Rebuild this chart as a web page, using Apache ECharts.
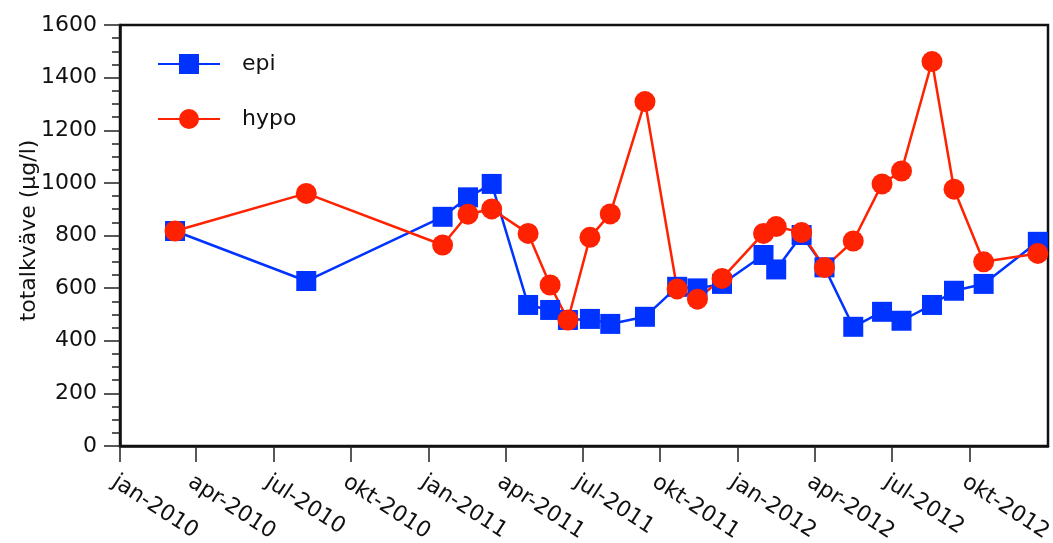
<!DOCTYPE html>
<html><head><meta charset="utf-8">
<script src="https://cdn.jsdelivr.net/npm/echarts@6/dist/echarts.min.js"></script>
<style>html,body{margin:0;padding:0;background:#fff}#c{width:1053px;height:543px}</style>
</head><body><div id="c"></div>
<script>
const dates = ['2010-03-07','2010-08-09','2011-01-17','2011-02-16','2011-03-16','2011-04-28','2011-05-24','2011-06-14','2011-07-10','2011-08-03','2011-09-13','2011-10-21','2011-11-14','2011-12-13','2012-01-31','2012-02-15','2012-03-16','2012-04-12','2012-05-16','2012-06-19','2012-07-12','2012-08-17','2012-09-12','2012-10-17','2012-12-20'];
const epi  = [817,627,871,945,996,536,517,479,483,464,491,605,599,616,726,671,802,679,453,510,476,536,590,616,776];
const hypo = [817,960,764,881,901,808,612,479,793,882,1309,597,558,637,808,834,811,678,779,996,1045,1461,976,700,732];
const tickDates  = ['2010-01-01','2010-04-01','2010-07-01','2010-10-01','2011-01-01','2011-04-01','2011-07-01','2011-10-01','2012-01-01','2012-04-01','2012-07-01','2012-10-01'];
const tickLabels = ['jan-2010','apr-2010','jul-2010','okt-2010','jan-2011','apr-2011','jul-2011','okt-2011','jan-2012','apr-2012','jul-2012','okt-2012'];
const xRange = ['2010-01-01','2013-01-01'];
const yMin = 0, yMax = 1600, yStep = 200;

const FONT = 'DejaVu Sans';
const p = s => { const [y,m,d] = s.split('-').map(Number); return Date.UTC(y, m-1, d); };
const tickValues = tickDates.map(p);

const chart = echarts.init(document.getElementById('c'), null, {renderer:'canvas'});
chart.setOption({
  animation: false,
  backgroundColor: '#fff',
  grid: { left: 120, right: 5, top: 25, bottom: 97, outerBoundsMode: 'none', containLabel: false,
          show: true, borderColor: '#111', borderWidth: 2.5, backgroundColor: 'transparent' },
  legend: {
    data: ['epi','hypo'], orient: 'vertical', left: 157, top: 53, padding: 0,
    itemWidth: 62, itemHeight: 25, itemGap: 33,
    textStyle: { fontSize: 22, fontFamily: FONT, color: '#111', padding: [0,0,0,17] }
  },
  xAxis: {
    type: 'value', min: p(xRange[0]), max: p(xRange[1]),
    axisLine: { show: true, onZero: false, lineStyle: { color: '#111', width: 2.5 } },
    axisTick: { show: true, length: 16, lineStyle: { color: '#222', width: 1.5 }, customValues: tickValues },
    axisLabel: {
      customValues: tickValues, rotate: -33, align: 'left', verticalAlign: 'top', margin: 25,
      fontSize: 22, fontFamily: FONT, color: '#111', hideOverlap: false,
      formatter: v => { const i = tickValues.indexOf(v); return i >= 0 ? tickLabels[i] : ''; }
    },
    splitLine: { show: false }
  },
  yAxis: {
    type: 'value', min: yMin, max: yMax, interval: yStep,
    name: 'totalkväve (µg/l)', nameLocation: 'middle', nameGap: 80, nameMoveOverlap: false,
    nameTextStyle: { fontSize: 22, fontFamily: FONT, color: '#111', padding: [0,0,0,10] },
    axisLine: { show: true, onZero: false, lineStyle: { color: '#111', width: 2.5 } },
    axisTick: { show: true, length: 16, lineStyle: { color: '#222', width: 1.5 } },
    minorTick: { show: true, splitNumber: 4, length: 8, lineStyle: { color: '#222', width: 1.5 } },
    axisLabel: { fontSize: 22, fontFamily: FONT, color: '#111', margin: 23, formatter: v => String(v) },
    splitLine: { show: false }
  },
  series: [
    { name: 'epi', type: 'line', symbol: 'rect', symbolSize: 20,
      data: dates.map((d,i) => [p(d), epi[i]]),
      lineStyle: { color: '#0033ff', width: 2.5 }, itemStyle: { color: '#0033ff' },
      emphasis: { disabled: true } },
    { name: 'hypo', type: 'line', symbol: 'circle', symbolSize: 21,
      data: dates.map((d,i) => [p(d), hypo[i]]),
      lineStyle: { color: '#ff2200', width: 2.5 }, itemStyle: { color: '#ff2200' },
      emphasis: { disabled: true } }
  ]
});
</script></body></html>
